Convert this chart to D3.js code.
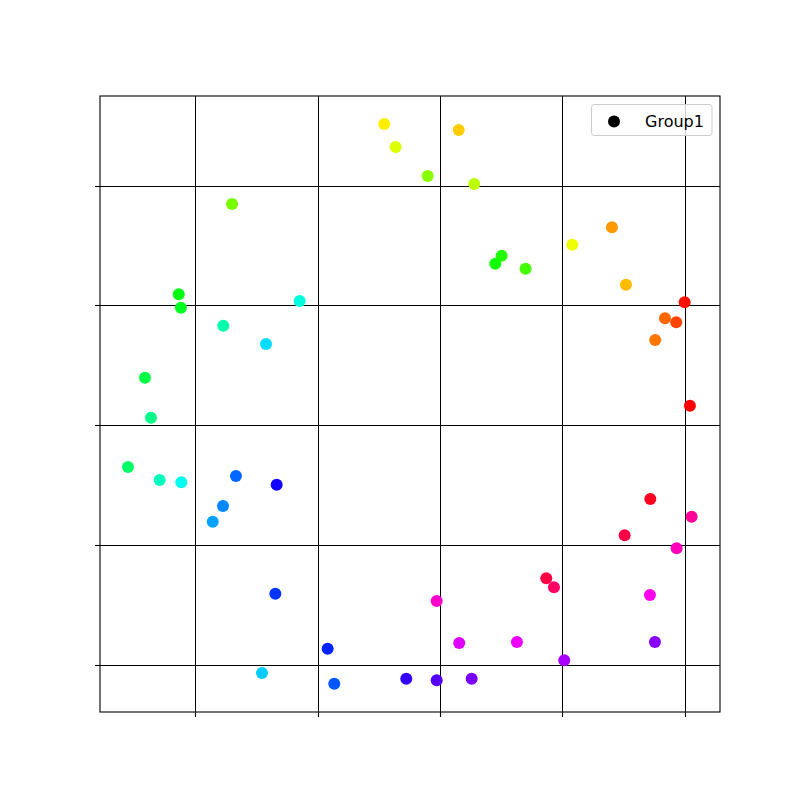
<!DOCTYPE html>
<html>
<head>
<meta charset="utf-8">
<script src="https://cdn.jsdelivr.net/npm/d3@7"></script>
<style>
  html, body { margin: 0; padding: 0; background: #fff; }
  svg { display: block; }
</style>
</head>
<body>
<div id="chart"></div>
<script>
// ---- data ----
const seriesName = "Group1";
const xValues = [2.544, 3.153, 2.637, 2.899, 3.280, 1.299, 4.082, 4.406, 3.504, 3.452,
                 3.700, 4.521, 0.863, 0.881, 1.852, 5.001, 1.227, 4.840, 4.932, 4.760,
                 1.577, 0.587, 0.636, 5.044, 0.448, 0.707, 0.884, 1.331, 1.664, 1.225,
                 1.141, 4.720, 5.058, 4.510, 4.935, 3.869, 3.932, 1.653, 2.973, 4.717,
                 3.157, 3.629, 4.758, 2.081, 4.016, 1.544, 2.135, 2.724, 2.973, 3.259];
const yValues = [5.516, 5.466, 5.324, 5.082, 5.015, 4.848, 4.508, 4.653, 4.416, 4.349,
                 4.307, 4.174, 4.094, 3.982, 4.038, 4.027, 3.831, 3.893, 3.860, 3.712,
                 3.678, 3.397, 3.063, 3.163, 2.651, 2.542, 2.523, 2.576, 2.503, 2.325,
                 2.194, 2.383, 2.236, 2.080, 1.972, 1.721, 1.646, 1.592, 1.531, 1.581,
                 1.180, 1.189, 1.189, 1.133, 1.036, 0.930, 0.840, 0.882, 0.869, 0.882];
// colour value (hue in degrees on an hsv colormap)
const colorValues = [56, 48, 68, 88, 76, 92, 64, 36, 112, 116,
                     104, 44, 124, 128, 172, 4, 160, 24, 16, 28,
                     188, 136, 152, 0, 144, 164, 176, 216, 244, 208,
                     202, 352, 324, 344, 316, 344, 336, 228, 312, 304,
                     292, 296, 272, 232, 280, 192, 220, 252, 260, 268];
const xTicks = [1, 2, 3, 4, 5];
const yTicks = [1, 2, 3, 4, 5];
const xDomain = [0.219, 5.290];
const yDomain = [0.604, 5.750];

// ---- layout ----
const W = 800, H = 800;
const mLeft = 100, mRight = 720, mTop = 96, mBottom = 712;

const svg = d3.select("#chart").append("svg")
  .attr("width", W).attr("height", H);

const x = d3.scaleLinear().domain(xDomain).range([mLeft, mRight]);
const y = d3.scaleLinear().domain(yDomain).range([mBottom, mTop]);
const hsv = h => d3.hsl(h, 1, 0.5).formatHex();

// grid
const grid = svg.append("g");
grid.selectAll("line.gx").data(xTicks).join("line").attr("class", "gx")
  .attr("x1", d => Math.round(x(d)) + 0.5).attr("x2", d => Math.round(x(d)) + 0.5)
  .attr("y1", mTop).attr("y2", mBottom)
  .attr("stroke", "#000").attr("stroke-width", 1);
grid.selectAll("line.gy").data(yTicks).join("line").attr("class", "gy")
  .attr("y1", d => Math.round(y(d)) + 0.5).attr("y2", d => Math.round(y(d)) + 0.5)
  .attr("x1", mLeft).attr("x2", mRight)
  .attr("stroke", "#000").attr("stroke-width", 1);

// ticks (outward, no labels)
const xAxis = svg.append("g").attr("transform", `translate(0,${mBottom})`)
  .call(d3.axisBottom(x).tickValues(xTicks).tickSize(5).tickSizeOuter(0).tickFormat(""));
const yAxis = svg.append("g").attr("transform", `translate(${mLeft},0)`)
  .call(d3.axisLeft(y).tickValues(yTicks).tickSize(5).tickSizeOuter(0).tickFormat(""));
[xAxis, yAxis].forEach(a => {
  a.select(".domain").remove();
  a.selectAll(".tick line").attr("stroke", "#000").attr("stroke-width", 1.1);
});
xAxis.selectAll(".tick").attr("transform", d => `translate(${Math.round(x(d)) + 0.5},0)`);
yAxis.selectAll(".tick").attr("transform", d => `translate(0,${Math.round(y(d)) + 0.5})`);

// points
const pts = xValues.map((v, i) => ({ x: v, y: yValues[i], c: colorValues[i] }));
svg.append("g").selectAll("circle").data(pts).join("circle")
  .attr("cx", d => x(d.x)).attr("cy", d => y(d.y)).attr("r", 6)
  .attr("fill", d => hsv(d.c));

// frame
svg.append("rect")
  .attr("x", mLeft).attr("y", mTop)
  .attr("width", mRight - mLeft).attr("height", mBottom - mTop)
  .attr("fill", "none").attr("stroke", "#000").attr("stroke-width", 1.1);

// legend
const lg = svg.append("g");
lg.append("rect")
  .attr("x", 591.5).attr("y", 104.5).attr("width", 120.5).attr("height", 31)
  .attr("rx", 3).attr("ry", 3)
  .attr("fill", "#fff").attr("fill-opacity", 0.8)
  .attr("stroke", "#cccccc").attr("stroke-width", 1);
lg.append("circle").attr("cx", 614).attr("cy", 121.5).attr("r", 6).attr("fill", "#000");
lg.append("text").attr("x", 645).attr("y", 127)
  .attr("font-family", "DejaVu Sans").attr("font-size", 16)
  .attr("fill", "#000").text(seriesName);
</script>
</body>
</html>
